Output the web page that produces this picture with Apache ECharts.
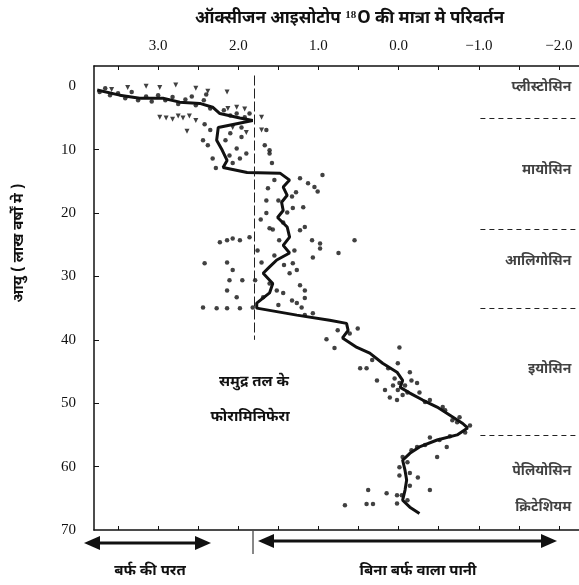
<!DOCTYPE html>
<html>
<head>
<meta charset="utf-8">
<script src="https://cdn.jsdelivr.net/npm/echarts@6/dist/echarts.min.js"></script>
<style>
html, body { margin: 0; padding: 0; background: #fff; }
#chart { width: 579px; height: 585px; }
</style>
</head>
<body>
<div id="chart"></div>
<script>
// running curve: [δ18O change, age]
const curve = [
  [3.76, 0.6], [3.48, 1.4], [3.23, 1.9], [2.94, 1.9], [2.73, 2.5], [2.48, 2.7],
  [2.32, 3.3], [2.23, 4.3], [1.98, 5.0], [1.82, 5.4], [2.25, 6.5], [2.27, 8.5],
  [2.20, 10.1], [2.14, 11.7], [2.19, 12.8], [1.89, 13.6], [1.48, 13.7], [1.36, 14.8],
  [1.44, 15.9], [1.39, 17.2], [1.46, 18.3], [1.44, 19.6], [1.51, 20.7], [1.39, 22.2],
  [1.36, 23.8], [1.44, 25.1], [1.36, 26.3], [1.52, 27.4], [1.61, 28.5], [1.69, 29.5],
  [1.57, 31.1], [1.61, 32.6], [1.77, 34.2], [1.77, 35.0], [1.27, 36.1], [0.86, 36.9],
  [0.65, 37.4], [0.63, 38.5], [0.70, 39.7], [0.52, 41.2], [0.36, 42.1], [0.20, 43.7],
  [0.02, 45.1], [-0.05, 46.4], [-0.02, 47.5], [-0.14, 48.4], [-0.30, 49.5], [-0.48, 50.6],
  [-0.64, 51.9], [-0.80, 53.2], [-0.86, 53.9], [-0.73, 55.0], [-0.48, 55.8], [-0.26, 56.9],
  [-0.14, 57.9], [-0.05, 59.0], [-0.08, 60.6], [-0.10, 62.1], [-0.08, 63.7], [-0.05, 65.3],
  [-0.14, 66.4], [-0.26, 67.4]
];

// single measurements (round dots)
const dots = [
  [3.73, 0.9], [3.66, 0.3], [3.60, 1.4], [3.50, 1.1], [3.41, 1.9], [3.33, 0.9], [3.25, 2.2],
  [3.15, 1.6], [3.08, 2.4], [3.00, 1.4], [2.91, 2.2], [2.82, 1.7], [2.75, 2.8], [2.66, 2.1],
  [2.58, 1.6], [2.53, 3.0], [2.43, 2.2], [2.35, 3.5], [2.40, 1.3], [2.18, 3.8], [2.10, 4.6],
  [2.02, 4.3], [1.92, 4.9], [1.86, 4.3],
  [2.42, 6.0], [2.35, 6.9], [2.44, 8.5], [2.38, 9.3], [2.32, 11.4], [2.28, 12.9], [2.10, 7.4],
  [1.96, 6.5], [1.96, 8.0], [2.02, 9.8], [1.90, 10.6], [1.65, 6.9], [1.61, 10.1], [1.58, 12.1],
  [1.67, 9.3], [1.61, 10.6], [2.16, 8.5], [2.11, 10.9], [2.07, 12.1], [1.98, 11.4],
  [1.63, 16.1], [1.65, 18.0], [1.65, 20.0], [1.32, 19.2], [1.19, 19.1], [0.95, 14.0],
  [1.13, 15.3], [1.05, 15.9], [1.01, 16.6], [1.23, 14.5], [1.28, 16.7], [1.72, 21.0],
  [1.57, 22.6], [1.23, 22.7], [1.17, 22.2], [1.08, 24.3], [0.98, 24.8], [0.98, 25.6],
  [0.55, 24.3], [0.75, 26.3], [1.07, 27.0], [1.32, 27.9], [1.36, 29.5], [1.27, 29.0],
  [1.17, 32.2], [1.17, 33.4], [1.27, 34.2], [1.21, 34.9], [1.44, 32.6], [1.52, 32.2],
  [1.61, 31.1], [1.69, 33.3], [2.23, 24.6], [2.14, 24.3], [2.07, 24.0], [1.98, 24.3],
  [1.86, 23.8], [2.42, 27.9], [2.14, 27.8], [2.07, 29.0], [2.11, 30.6], [2.14, 32.2],
  [1.95, 30.6], [2.02, 33.3], [2.44, 34.9], [2.27, 35.0], [2.14, 35.0], [1.98, 35.0],
  [1.82, 34.9], [1.76, 25.9], [1.71, 27.8], [1.79, 30.6], [1.49, 24.3], [1.55, 26.7],
  [1.43, 28.2], [1.30, 25.9], [1.23, 31.4], [1.33, 33.8], [1.50, 34.5], [1.61, 22.4],
  [1.44, 21.5], [1.50, 18.0], [1.33, 17.4], [1.39, 19.9], [1.55, 14.8], [1.07, 35.8],
  [1.17, 36.1],
  [0.76, 38.5], [0.90, 39.9], [0.80, 41.3], [0.51, 38.2], [-0.01, 41.2], [0.48, 44.5],
  [0.40, 44.5], [0.27, 46.4], [0.17, 47.9], [0.11, 49.1], [0.02, 49.5], [0.01, 43.7],
  [-0.14, 45.1], [-0.23, 46.8], [-0.26, 48.3], [-0.39, 49.5], [-0.55, 50.6], [-0.76, 52.2],
  [-0.73, 53.0], [-0.39, 55.4], [-0.51, 55.8], [-0.60, 56.9], [-0.48, 58.5], [-0.23, 56.9],
  [-0.05, 58.5], [-0.01, 60.1], [-0.14, 61.0], [-0.24, 61.7], [-0.39, 63.7], [0.38, 63.7],
  [0.15, 64.2], [0.02, 64.5], [0.67, 66.1], [0.40, 65.9], [0.32, 65.9], [0.02, 65.8],
  [0.05, 46.1], [-0.01, 46.8], [-0.08, 47.2], [0.01, 47.9], [-0.11, 48.3], [0.07, 47.2],
  [-0.16, 46.4], [-0.05, 48.7], [0.33, 43.2], [0.13, 44.5], [-0.33, 49.8], [-0.58, 51.1],
  [-0.67, 52.7], [-0.89, 53.5], [-0.83, 54.6], [-0.64, 55.2], [-0.33, 56.6], [-0.16, 57.4],
  [-0.11, 59.3], [-0.01, 61.4], [-0.14, 63.0], [-0.04, 64.5], [-0.11, 65.3], [0.61, 39.0]
];

// planktonic measurements (small down triangles)
const triangles = [
  [3.58, 0.5], [3.38, 0.2], [3.15, 0.0], [2.98, 0.2], [2.78, -0.2], [2.53, 0.3], [2.38, 0.8],
  [2.14, 0.9], [2.98, 4.9], [2.90, 5.0], [2.82, 5.2], [2.75, 4.7], [2.69, 5.0], [2.61, 4.7],
  [2.53, 5.4], [2.64, 7.1], [2.13, 3.5], [2.02, 3.3], [1.92, 3.6], [2.07, 6.5], [1.90, 7.3],
  [1.71, 4.9], [1.71, 6.9]
];

const xTicks = [3.5, 3, 2.5, 2, 1.5, 1, 0.5, 0, -0.5, -1, -1.5, -2];
const xLabels = [3, 2, 1, 0, -1, -2];
const yTicks = [10, 20, 30, 40, 50, 60];
const yLabels = [0, 10, 20, 30, 40, 50, 60, 70];

const epochNames = ['प्लीस्टोसिन', 'मायोसिन', 'आलिगोसिन', 'इयोसिन', 'पेलियोसिन', 'क्रिटेशियम'];
const epochAges = [0.3, 13.4, 27.8, 44.8, 60.9, 66.6];
const boundaryAges = [5, 22.5, 35, 55];
const iceLimit = 1.8;

const hindi = '"Noto Sans Devanagari", "Noto Serif Devanagari", "Lohit Devanagari", "FreeSerif", "Mangal", serif';
const serif = '"Liberation Serif", "DejaVu Serif", serif';
const ink = '#111';

const chart = echarts.init(document.getElementById('chart'));

const fmt = v => (v < 0 ? '−' + Math.abs(v).toFixed(1) : v.toFixed(1));

const options = {
  backgroundColor: '#fff',
  animation: false,
  title: {
    text: '{a|ऑक्सीजन आइसोटोप }{s|18}{a|O की मात्रा मे परिवर्तन}',
    left: 190,
    top: 5,
    textStyle: {
      rich: {
        a: { fontFamily: hindi, fontSize: 17, fontWeight: 'bold', color: ink },
        s: { fontFamily: serif, fontSize: 11, color: ink, verticalAlign: 'top', padding: [0, 1, 8, 0] }
      }
    }
  },
  grid: { left: 94, top: 66, right: 0, bottom: 55 },
  xAxis: [
    {
      type: 'value', position: 'top', inverse: true, min: -2.25, max: 3.8,
      axisLine: { show: true, onZero: false, lineStyle: { color: ink, width: 1.5 } },
      axisTick: { show: true, inside: true, length: 4, customValues: xTicks, lineStyle: { color: ink } },
      axisLabel: { customValues: xLabels, formatter: fmt, margin: 12, fontFamily: serif, fontSize: 15, color: ink },
      splitLine: { show: false }
    },
    {
      type: 'value', position: 'bottom', inverse: true, min: -2.25, max: 3.8,
      axisLine: { show: true, onZero: false, lineStyle: { color: ink, width: 1.5 } },
      axisTick: { show: true, inside: true, length: 4, customValues: xTicks, lineStyle: { color: ink } },
      axisLabel: { show: false },
      splitLine: { show: false }
    }
  ],
  yAxis: {
    type: 'value', inverse: true, min: -3.2, max: 70,
    axisLine: { show: true, onZero: false, lineStyle: { color: ink, width: 1.5 } },
    axisTick: { show: true, inside: true, length: 5, customValues: yTicks, lineStyle: { color: ink } },
    axisLabel: { customValues: yLabels, margin: 18, fontFamily: serif, fontSize: 15, color: ink },
    splitLine: { show: false }
  },
  series: [
    {
      type: 'scatter', data: dots, symbol: 'circle', symbolSize: 4.5,
      itemStyle: { color: ink }, z: 3,
      markLine: {
        silent: true, symbol: 'none', label: { show: false },
        lineStyle: { color: '#222', width: 1, type: [5, 4] },
        data: boundaryAges.map(a => [{ coord: [-1.02, a] }, { coord: [-2.24, a] }])
          .concat([[{ coord: [iceLimit, -1.7], lineStyle: { type: [10, 3] } }, { coord: [iceLimit, 40] }]])
      }
    },
    {
      type: 'scatter', data: triangles, symbol: 'triangle', symbolRotate: 180, symbolSize: 5,
      itemStyle: { color: ink }, z: 3
    },
    {
      type: 'line', data: curve, showSymbol: false, smooth: false,
      lineStyle: { color: ink, width: 3 }, z: 4
    },
    {
      type: 'scatter', data: epochAges.map(a => [-2.16, a]), symbolSize: 1,
      itemStyle: { color: 'rgba(0,0,0,0)' },
      label: {
        show: true, position: 'left', distance: 0,
        formatter: p => epochNames[p.dataIndex],
        fontFamily: hindi, fontSize: 14, fontWeight: 'bold', color: ink
      }
    }
  ],
  graphic: [
    {
      type: 'text', x: 20, y: 243, rotation: Math.PI / 2,
      style: { text: 'आयु ( लाख वर्षों मे )', font: 'bold 15px ' + hindi, fill: ink, align: 'center', verticalAlign: 'middle' }
    },
    {
      type: 'text', x: 254, y: 383,
      style: { text: 'समुद्र तल के', font: 'bold 15px ' + hindi, fill: ink, align: 'center', verticalAlign: 'middle' }
    },
    {
      type: 'text', x: 250, y: 418,
      style: { text: 'फोरामिनिफेरा', font: 'bold 15px ' + hindi, fill: ink, align: 'center', verticalAlign: 'middle' }
    },
    // ice-sheet arrow (left)
    { type: 'line', shape: { x1: 98, y1: 543, x2: 198, y2: 543 }, style: { stroke: ink, lineWidth: 3 } },
    { type: 'polygon', shape: { points: [[84, 543], [100, 536], [100, 550]] }, style: { fill: ink } },
    { type: 'polygon', shape: { points: [[211, 543], [195, 536], [195, 550]] }, style: { fill: ink } },
    { type: 'line', shape: { x1: 253, y1: 531, x2: 253, y2: 554 }, style: { stroke: ink, lineWidth: 1 } },
    // ice-free arrow (right)
    { type: 'line', shape: { x1: 270, y1: 541, x2: 545, y2: 541 }, style: { stroke: ink, lineWidth: 3 } },
    { type: 'polygon', shape: { points: [[258, 541], [274, 534], [274, 548]] }, style: { fill: ink } },
    { type: 'polygon', shape: { points: [[557, 541], [541, 534], [541, 548]] }, style: { fill: ink } },
    {
      type: 'text', x: 150, y: 572,
      style: { text: 'बर्फ की परत', font: 'bold 15px ' + hindi, fill: ink, align: 'center', verticalAlign: 'middle' }
    },
    {
      type: 'text', x: 418, y: 572,
      style: { text: 'बिना बर्फ वाला पानी', font: 'bold 15px ' + hindi, fill: ink, align: 'center', verticalAlign: 'middle' }
    }
  ]
};

chart.setOption(options);
</script>
</body>
</html>
